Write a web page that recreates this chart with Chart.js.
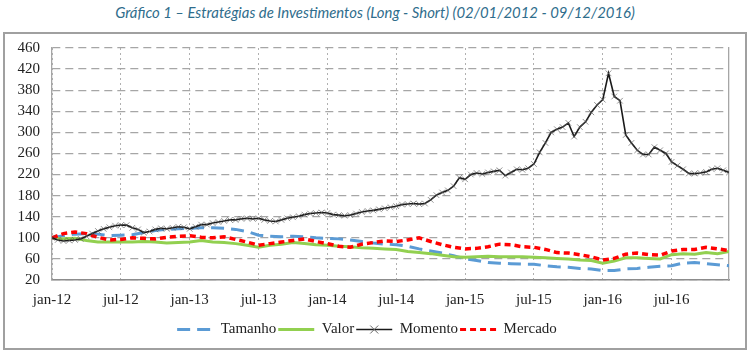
<!DOCTYPE html>
<html>
<head>
<meta charset="utf-8">
<script src="https://cdn.jsdelivr.net/npm/chart.js@4"></script>
<style>
  body { margin: 0; background: #fff; }
  #title {
    position: absolute; left: 0; top: 3px; width: 750px; text-align: center;
    font-family: Lato, "Open Sans", sans-serif; font-style: italic; font-size: 14.9px;
    color: #2f6d8c;
  }
  #box {
    position: absolute; left: 3px; top: 32px; width: 740px; height: 314px;
    border: 2px solid #a0a0a0;
  }
</style>
</head>
<body>
<div id="title">Gráfico 1 – Estratégias de Investimentos (Long - Short) (02/01/2012 - 09/12/2016)</div>
<div id="box"><canvas id="canvas"></canvas></div>
<script>
// months since jan-12
const months = [0,1,2,3,4,5,6,7,8,9,10,11,12,13,14,15,16,17,18,19,20,21,22,23,24,25,26,27,28,29,
    30,31,32,33,34,35,36,37,38,39,40,41,42,43,44,45,46,47,48,49,50,51,52,53,54,55,56,57,58,59];

const tamanho = [100,104,107,108,107,104,105,106,110,114,116,117,118,119,119,118,116,112,105,103,
    102,103,102,100,99,98,96,93,90,88,87,84,79,75,71,66,60,57,53,52,
    51,50,50,47,45,44,42,41,38,38,41,42,44,46,47,52,53,51,49,47];

const valor = [100,98,99,95,92,92,92,92,93,92,90,91,92,95,92,91,89,86,82,86,
    88,91,89,87,86,84,83,81,80,79,78,74,72,70,67,64,63,64,65,64,
    64,64,63,62,61,60,58,57,52,56,62,62,61,60,68,70,69,72,70,74];

const mercado = [100,108,111,108,101,96,97,100,99,98,101,103,104,101,100,102,97,92,86,89,
    92,95,98,93,89,84,82,88,91,94,93,96,100,93,87,82,79,80,83,88,
    87,83,82,78,72,71,68,64,58,61,69,71,68,67,75,78,78,82,79,76];

// half-month steps
const halfMonths = [0,0.5,1,1.5,2,2.5,3,3.5,4,4.5,5,5.5,6,6.5,7,7.5,8,8.5,9,9.5,
    10,10.5,11,11.5,12,12.5,13,13.5,14,14.5,15,15.5,16,16.5,17,17.5,18,18.5,19,19.5,
    20,20.5,21,21.5,22,22.5,23,23.5,24,24.5,25,25.5,26,26.5,27,27.5,28,28.5,29,29.5,
    30,30.5,31,31.5,32,32.5,33,33.5,34,34.5,35,35.5,36,36.5,37,37.5,38,38.5,39,39.5,
    40,40.5,41,41.5,42,42.5,43,43.5,44,44.5,45,45.5,46,46.5,47,47.5,48,48.5,49,49.5,
    50,50.5,51,51.5,52,52.5,53,53.5,54,54.5,55,55.5,56,56.5,57,57.5,58,58.5,59];

const momento = [100,96,94,95,96,98,103,108,113,117,120,123,124,124,119,116,110,112,116,118,
    117,119,121,120,117,121,125,125,128,130,132,134,134,136,137,136,137,134,132,131,
    134,137,139,141,144,146,147,148,147,144,143,142,143,146,149,151,152,154,156,158,
    160,163,164,165,164,165,172,181,186,190,198,214,211,220,223,221,224,226,228,218,
    224,230,229,232,240,262,280,300,306,310,318,292,310,320,338,352,362,412,368,360,
    295,280,266,258,258,272,266,260,244,237,230,222,222,223,225,230,232,228,224];

const xTickLabels = ['jan-12','jul-12','jan-13','jul-13','jan-14','jul-14','jan-15','jul-15','jan-16','jul-16'];
const xTickPos = [0,6,12,18,24,30,36,42,48,54];

const pts = (xs, ys) => xs.map((x, i) => ({x: x, y: ys[i]}));

const serif = '"Liberation Serif", "DejaVu Serif", serif';

const legendCross = {
    id: 'legendCross',
    afterDraw(chart) {
        const lg = chart.legend;
        if (!lg || !lg.legendHitBoxes) return;
        const i = lg.legendItems.findIndex(it => it.text === 'Momento');
        const hb = lg.legendHitBoxes[i];
        if (!hb) return;
        const ctx = chart.ctx;
        const cx = hb.left + 18, cy = hb.top + hb.height / 2;
        ctx.save();
        ctx.strokeStyle = '#666';
        ctx.lineWidth = 1;
        ctx.beginPath();
        ctx.moveTo(cx - 4, cy - 4); ctx.lineTo(cx + 4, cy + 4);
        ctx.moveTo(cx - 4, cy + 4); ctx.lineTo(cx + 4, cy - 4);
        ctx.stroke();
        ctx.restore();
    }
};

const ctx = document.getElementById('canvas').getContext('2d');
const myChart = new Chart(ctx, {
    type: 'line',
    data: {
        datasets: [{
            label: 'Tamanho',
            data: pts(months, tamanho),
            borderColor: '#5b9bd5',
            backgroundColor: '#5b9bd5',
            borderWidth: 3,
            borderDash: [13, 7],
            pointRadius: 0,
            order: 4
        }, {
            label: 'Valor',
            data: pts(months, valor),
            borderColor: '#92d050',
            backgroundColor: '#92d050',
            borderWidth: 3,
            pointRadius: 0,
            order: 3
        }, {
            label: 'Momento',
            data: pts(halfMonths, momento),
            borderColor: '#1a1a1a',
            backgroundColor: '#1a1a1a',
            borderWidth: 1.6,
            pointStyle: 'crossRot',
            pointRadius: 4,
            pointBorderColor: 'rgba(90,90,90,0.65)',
            pointBorderWidth: 1,
            order: 1
        }, {
            label: 'Mercado',
            data: pts(months, mercado),
            borderColor: '#ff0000',
            backgroundColor: '#ff0000',
            borderWidth: 3.5,
            borderDash: [6, 4],
            pointRadius: 0,
            order: 2
        }]
    },
    options: {
        responsive: true,
        maintainAspectRatio: false,
        animation: false,
        layout: { padding: { top: 14, right: 16, left: 0, bottom: 1 } },
        plugins: {
            tooltip: { enabled: false },
            legend: {
                position: 'bottom',
                labels: {
                    sort: (a, b) => a.datasetIndex - b.datasetIndex,
                    usePointStyle: true,
                    pointStyle: 'line',
                    pointStyleWidth: 36,
                    boxWidth: 36,
                    boxHeight: 2,
                    padding: 2,
                    color: '#222',
                    font: { family: serif, size: 15 },
                    generateLabels(chart) {
                        return chart.data.datasets.map((ds, i) => ({
                            text: ds.label,
                            datasetIndex: i,
                            strokeStyle: ds.borderColor,
                            fillStyle: ds.borderColor,
                            lineWidth: i === 2 ? 1.5 : 3,
                            lineDash: ds.borderDash || [],
                            pointStyle: 'line',
                            fontColor: '#222'
                        }));
                    }
                }
            }
        },
        scales: {
            x: {
                type: 'linear',
                min: 0,
                max: 59,
                afterBuildTicks(scale) {
                    scale.ticks = xTickPos.map(v => ({ value: v }));
                },
                ticks: {
                    autoSkip: false,
                    maxRotation: 0,
                    padding: 11,
                    color: '#222',
                    font: { family: serif, size: 15 },
                    callback: (v) => xTickLabels[xTickPos.indexOf(v)]
                },
                grid: { display: false, drawTicks: false },
                border: { display: true, color: '#8c8c8c', width: 1.5 }
            },
            // dotted vertical grid lines only
            xg: {
                type: 'linear',
                position: 'bottom',
                min: 0,
                max: 59,
                afterBuildTicks(scale) {
                    scale.ticks = xTickPos.map(v => ({ value: v }));
                },
                afterFit(scale) { scale.height = 0; },
                ticks: { display: false },
                grid: { color: '#b0b0b0', lineWidth: 1, drawTicks: false },
                border: { display: false, dash: [2, 3] }
            },
            y: {
                min: 20,
                max: 460,
                afterFit(scale) { scale.width = 47; scale.paddingTop = 0; },
                ticks: {
                    stepSize: 40,
                    autoSkip: false,
                    padding: 12,
                    color: '#222',
                    font: { family: serif, size: 15 }
                },
                grid: { color: '#a6a6a6', lineWidth: 1.3, drawTicks: false },
                border: { display: true, color: '#a6a6a6', width: 1.3, dash: [8, 5] }
            },
            y2: {
                position: 'right',
                min: 20,
                max: 460,
                afterFit(scale) { scale.width = 0; scale.paddingTop = 0; },
                ticks: { display: false },
                grid: { display: false, drawTicks: false },
                border: { display: true, color: '#a6a6a6', width: 1.3, dash: [8, 5] }
            }
        }
    },
    plugins: [legendCross]
});
</script>
</body>
</html>
